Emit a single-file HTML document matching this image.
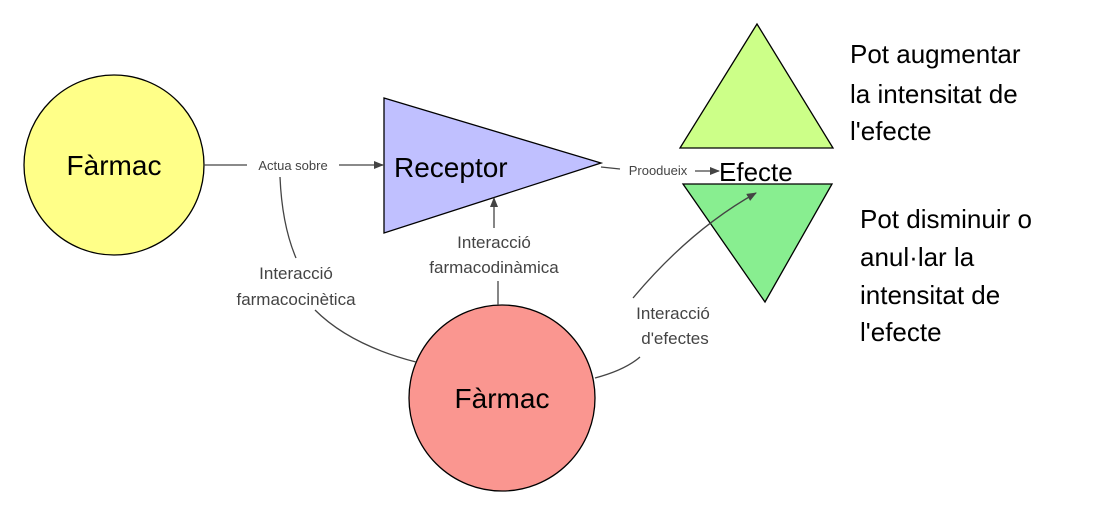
<!DOCTYPE html>
<html><head><style>body{margin:0;background:#fff}</style></head><body>
<svg width="1108" height="511" xmlns="http://www.w3.org/2000/svg" font-family="Liberation Sans, sans-serif">
<defs><marker id="a" markerWidth="10" markerHeight="8" refX="9" refY="4" orient="auto" markerUnits="userSpaceOnUse"><path d="M0,0 L10,4 L0,8z" fill="#444"/></marker></defs>
<rect width="1108" height="511" fill="#fff"/>
<circle cx="114" cy="165" r="90" fill="#ffff88" stroke="#000" stroke-width="1.3"/>
<text x="114" y="175" font-size="28" text-anchor="middle">Fàrmac</text>
<circle cx="502" cy="398" r="93" fill="#fa9690" stroke="#000" stroke-width="1.3"/>
<text x="502" y="408" font-size="28" text-anchor="middle">Fàrmac</text>
<polygon points="384,98 384,233 601,163" fill="#c0c0ff" stroke="#000" stroke-width="1.3"/>
<text x="394" y="177" font-size="28">Receptor</text>
<polygon points="757,24 680,148 833,148" fill="#ccff88" stroke="#000" stroke-width="1.3"/>
<polygon points="683,184 832,184 765,302" fill="#88ee90" stroke="#000" stroke-width="1.3"/>
<text x="719" y="181" font-size="26">Efecte</text>
<g font-size="26"><text x="850" y="63">Pot augmentar</text><text x="850" y="103">la intensitat de</text><text x="850" y="140">l'efecte</text>
<text x="860" y="228">Pot disminuir o</text><text x="860" y="266">anul·lar la</text><text x="860" y="304">intensitat de</text><text x="860" y="341">l'efecte</text></g>
<g stroke="#444" stroke-width="1.3" fill="none">
<path d="M204,165 L247,165"/><path d="M339,165 L383,165" marker-end="url(#a)"/>
<path d="M601,167 L620,169"/><path d="M695,171 L719,171" marker-end="url(#a)"/>
<path d="M280,177 Q282,225 296,258"/>
<path d="M315,310 Q350,345 416,362"/>
<path d="M498,305 L498,281"/><path d="M457,?"/>
<path d="M457,228 L457,228"/>
<path d="M457,227 L457,227"/>
<path d="M457,227" />
<path d="M457,227 L457,227"/>
<path d="M457,227 L457,227"/>
<path d="M457,227 L457,227"/>
<path d="M457,227 L457,227"/>
<path d="M457,227 L457,227"/>
<path d="M457,227 L457,227"/>
<path d="M457,227 L457,227"/>
<path d="M494,228 L494,198" marker-end="url(#a)"/>
<path d="M595,378 Q625,370 640,357"/>
<path d="M633,298 Q690,230 756,193" marker-end="url(#a)"/>
</g>
<g fill="#444" text-anchor="middle">
<text x="293" y="170" font-size="13">Actua sobre</text>
<text x="658" y="175" font-size="13">Proodueix</text>
<text x="296" y="279" font-size="17">Interacció</text><text x="296" y="305" font-size="17">farmacocinètica</text>
<text x="494" y="248" font-size="17">Interacció</text><text x="494" y="273" font-size="17">farmacodinàmica</text>
<text x="673" y="319" font-size="17">Interacció</text><text x="675" y="344" font-size="17">d'efectes</text>
</g>
</svg>
</body></html>
